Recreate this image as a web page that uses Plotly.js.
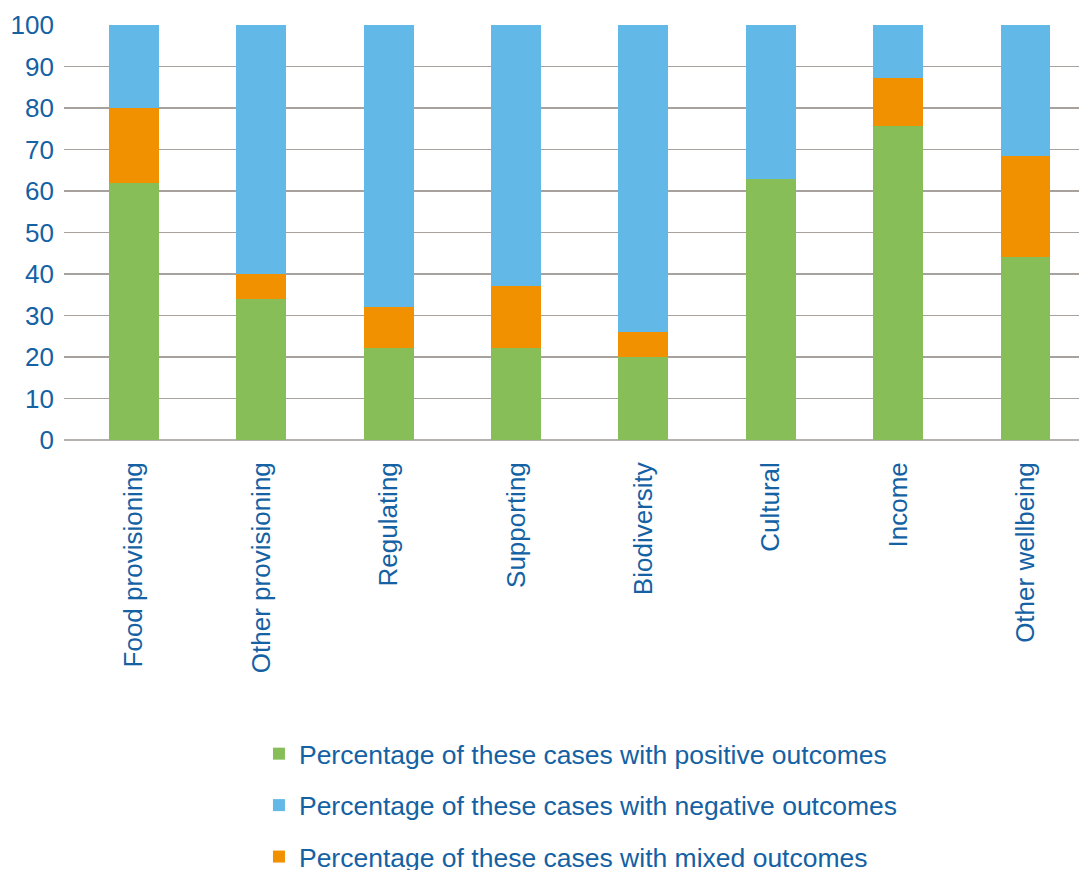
<!DOCTYPE html>
<html>
<head>
<meta charset="utf-8">
<script src="https://cdn.plot.ly/plotly-3.0.1.min.js"></script>
<style>html,body{margin:0;padding:0;background:#fff;}#chart{width:1079px;height:870px;}</style>
</head>
<body>
<div id="chart"></div>
<script>
const categories = ["Food provisioning","Other provisioning","Regulating","Supporting","Biodiversity","Cultural","Income","Other wellbeing"];
const positive = [62, 34, 22.2, 22.2, 20, 62.9, 75.7, 44.1];
const mixed    = [18, 6, 9.9, 15, 6, 0, 11.6, 24.4];
const negative = [20, 60, 67.9, 62.8, 74, 37.1, 12.7, 31.5];
const seriesNames = ["Percentage of these cases with positive outcomes","Percentage of these cases with negative outcomes","Percentage of these cases with mixed outcomes"];
const yTicks = [0,10,20,30,40,50,60,70,80,90,100];

const textColor = "#1461a3";
const font = "Liberation Sans, Arial, sans-serif";

const traces = [
  {type:'bar', x:categories, y:positive, name:seriesNames[0], marker:{color:'#88be57'}, legendgroup:'a', legendrank:1, width:0.392},
  {type:'bar', x:categories, y:mixed, name:seriesNames[2], marker:{color:'#f29100'}, legendgroup:'c', legendrank:3, width:0.392},
  {type:'bar', x:categories, y:negative, name:seriesNames[1], marker:{color:'#62b8e7'}, legendgroup:'b', legendrank:2, width:0.392}
];

const layout = {
  width:1079, height:870,
  margin:{l:64, r:0, t:25, b:430, autoexpand:false},
  barmode:'stack',
  paper_bgcolor:'#fff', plot_bgcolor:'#fff',
  font:{family:font, color:textColor, size:26},
  showlegend:true,
  legend:{
    orientation:'v', traceorder:'grouped', tracegroupgap:14,
    xref:'container', yref:'container', x:0.24, y:0.161, xanchor:'left', yanchor:'top',
    font:{family:font, size:26.5, color:textColor}
  },
  xaxis:{
    type:'category', range:[-0.55, 7.42], tickangle:-90,
    showgrid:false, zeroline:false, showline:false, ticks:'',
    ticklabelstandoff:16,
    tickfont:{family:font, size:26, color:textColor}
  },
  yaxis:{
    range:[0,100], tickvals:yTicks, ticktext:yTicks.map(String),
    showgrid:true, gridcolor:'#a7a29e', gridwidth:1.5,
    zeroline:true, zerolinecolor:'#b5b1ae', zerolinewidth:2,
    showline:false, ticks:'', ticklabelstandoff:9,
    tickfont:{family:font, size:26, color:textColor}
  }
};

Plotly.newPlot('chart', traces, layout, {displayModeBar:false, staticPlot:true});
</script>
</body>
</html>
